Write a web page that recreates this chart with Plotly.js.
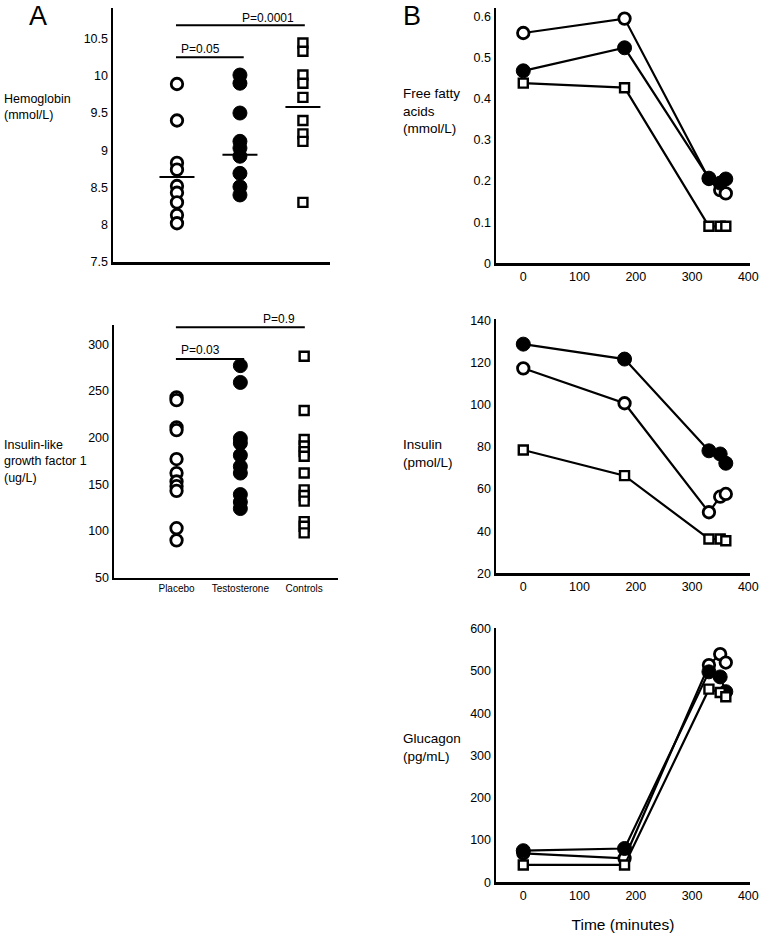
<!DOCTYPE html>
<html><head><meta charset="utf-8">
<script src="https://cdn.plot.ly/plotly-3.0.1.min.js"></script>
<style>html,body{margin:0;padding:0;background:#fff}#chart{width:762px;height:936px}</style>
</head><body><div id="chart"></div>
<script>
// ---------- DATA ----------
const groups = ["Placebo", "Testosterone", "Controls"];
const hbPlacebo = [9.89, 9.40, 8.83, 8.74, 8.52, 8.43, 8.30, 8.13, 8.02];
const hbTestosterone = [10.01, 9.90, 9.50, 9.12, 9.03, 8.92, 8.69, 8.51, 8.40];
const hbControls = [10.44, 10.33, 10.01, 9.90, 9.71, 9.40, 9.22, 9.12, 8.30];
const hbMeans = [8.64, 8.94, 9.58];
const igfPlacebo = [243, 240, 211, 208, 177, 162, 153, 148, 143, 103, 90];
const igfTestosterone = [277, 259, 199, 194, 181, 169, 162, 139, 131, 124];
const igfControls = [287, 229, 198, 191, 185, 180, 162, 144, 138, 132, 110, 105, 98];
const hbP = ["P=0.05", "P=0.0001"];
const igfP = ["P=0.03", "P=0.9"];

const time = [0, 180, 330, 350, 360];
const ffaPlacebo = [0.56, 0.595, 0.205, 0.178, 0.170];
const ffaTestosterone = [0.468, 0.524, 0.207, 0.195, 0.205];
const ffaControls = [0.438, 0.427, 0.090, 0.090, 0.090];
const insPlacebo = [117.4, 100.8, 49, 56.4, 57.7];
const insTestosterone = [128.9, 121.8, 78.2, 76.7, 72.3];
const insControls = [78.6, 66.4, 36.3, 36.3, 35.5];
const gluPlacebo = [68.6, 56.8, 514, 540, 520];
const gluTestosterone = [74.8, 80, 498, 486, 451];
const gluControls = [41, 41, 457, 449, 439];

const hbTicks = [7.5, 8, 8.5, 9, 9.5, 10, 10.5];
const hbTickText = ["7.5", "8", "8.5", "9", "9.5", "10", "10.5"];
const igfTicks = [50, 100, 150, 200, 250, 300];
const ffaTicks = [0, 0.1, 0.2, 0.3, 0.4, 0.5, 0.6];
const ffaTickText = ["0", "0.1", "0.2", "0.3", "0.4", "0.5", "0.6"];
const insTicks = [20, 40, 60, 80, 100, 120, 140];
const gluTicks = [0, 100, 200, 300, 400, 500, 600];
const timeTicks = [0, 100, 200, 300, 400];

// ---------- LAYOUT HELPERS ----------
const W = 762, H = 936;
const px = v => v / W;
const py = v => 1 - v / H;
const FONT = "Liberation Sans, Arial, sans-serif";

const openCircle = {symbol: "circle", size: 11.5, color: "#fff", line: {color: "#000", width: 2.8}};
const filledCircle = {symbol: "circle", size: 14, color: "#000", line: {color: "#000", width: 1}};
const openSquare = {symbol: "square", size: 9, color: "#fff", line: {color: "#000", width: 2.4}};
const markers = [openCircle, filledCircle, openSquare];

const traces = [];
function strip(vals, i, xa, ya) {
  traces.push({type: "scatter", mode: "markers", x: vals.map(() => i), y: vals,
    xaxis: xa, yaxis: ya, marker: markers[i], showlegend: false, cliponaxis: false, hoverinfo: "skip"});
}
[hbPlacebo, hbTestosterone, hbControls].forEach((v, i) => strip(v, i, "x", "y"));
[igfPlacebo, igfTestosterone, igfControls].forEach((v, i) => strip(v, i, "x2", "y2"));
traces.push({type: "scatter", mode: "markers", x: [0, 1, 2], y: hbMeans, xaxis: "x", yaxis: "y",
  marker: {symbol: "line-ew", size: 25, line: {color: "#000", width: 2}}, showlegend: false, cliponaxis: false});

function series(vals, i, xa, ya) {
  traces.push({type: "scatter", mode: "lines+markers", x: time, y: vals, xaxis: xa, yaxis: ya,
    line: {color: "#000", width: 2.2}, marker: markers[i], showlegend: false, cliponaxis: false});
}
[ffaPlacebo, ffaTestosterone, ffaControls].forEach((v, i) => series(v, i, "x3", "y3"));
[insPlacebo, insTestosterone, insControls].forEach((v, i) => series(v, i, "x4", "y4"));
[gluPlacebo, gluTestosterone, gluControls].forEach((v, i) => series(v, i, "x5", "y5"));

function ax(x0, x1, range, extra) {
  return Object.assign({domain: [px(x0), px(x1)], range: range, showline: true, linewidth: 2.5,
    linecolor: "#000", showgrid: false, zeroline: false, ticks: "", fixedrange: true,
    tickfont: {family: FONT, size: 12.5, color: "#000"}}, extra || {});
}
function ay(y0, y1, range, anchor, extra) {
  return Object.assign({domain: [py(y1), py(y0)], range: range, anchor: anchor, showline: true, linewidth: 2.5,
    linecolor: "#000", showgrid: false, zeroline: false, ticks: "", fixedrange: true,
    tickfont: {family: FONT, size: 12.5, color: "#000"}}, extra || {});
}

const layout = {
  width: W, height: H, margin: {l: 0, r: 0, t: 0, b: 0},
  paper_bgcolor: "#fff", plot_bgcolor: "rgba(0,0,0,0)", showlegend: false,
  font: {family: FONT, color: "#000"},
  xaxis: ax(113, 330, [-1.016, 2.43], {anchor: "y", showticklabels: false}),
  yaxis: ay(8, 262, [7.5, 10.91], "x", {tickvals: hbTicks, ticktext: hbTickText}),
  xaxis2: ax(114, 338, [-0.98, 2.53], {anchor: "y2", tickvals: [0, 1, 2], ticktext: groups, tickfont: {family: FONT, size: 10, color: "#000"}}),
  yaxis2: ay(325, 577.7, [50, 320.5], "x2", {tickvals: igfTicks}),
  xaxis3: ax(496, 750, [-48.5, 403], {anchor: "y3", tickvals: timeTicks}),
  yaxis3: ay(8.3, 263.3, [0, 0.62], "x3", {tickvals: ffaTicks, ticktext: ffaTickText}),
  xaxis4: ax(496, 750, [-48.5, 403], {anchor: "y4", tickvals: timeTicks}),
  yaxis4: ay(319.3, 573.3, [20, 140.7], "x4", {tickvals: insTicks}),
  xaxis5: ax(496, 750, [-48.5, 403], {anchor: "y5", tickvals: timeTicks,
    title: {text: "Time (minutes)", font: {family: FONT, size: 15.5, color: "#000"}, standoff: 18}}),
  yaxis5: ay(628.3, 882.3, [0, 601], "x5", {tickvals: gluTicks}),
  shapes: [
    {type: "line", xref: "x", yref: "y", x0: -0.016, x1: 1.06, y0: 10.25, y1: 10.25, line: {color: "#000", width: 2}},
    {type: "line", xref: "x", yref: "y", x0: -0.016, x1: 2.03, y0: 10.68, y1: 10.68, line: {color: "#000", width: 2}},
    {type: "line", xref: "x2", yref: "y2", x0: -0.01, x1: 1.06, y0: 284, y1: 284, line: {color: "#000", width: 2}},
    {type: "line", xref: "x2", yref: "y2", x0: -0.01, x1: 2.01, y0: 318, y1: 318, line: {color: "#000", width: 2}}
  ],
  annotations: []
};

const A = layout.annotations;
function note(text, x, y, size, xanchor, extra) {
  A.push(Object.assign({text: text, xref: "paper", yref: "paper", x: px(x), y: py(y), xanchor: xanchor || "left",
    yanchor: "middle", showarrow: false, align: "left", font: {family: FONT, size: size, color: "#000"}}, extra || {}));
}
note("A", 27, 16, 27);
note("B", 401, 16, 27);
note("Hemoglobin<br>(mmol/L)", 2, 107, 12.5);
note("Insulin-like<br>growth factor 1<br>(ug/L)", 2, 461, 12.5);
note("Free fatty<br>acids<br>(mmol/L)", 401, 111, 13.5);
note("Insulin<br>(pmol/L)", 401, 453, 13.5);
note("Glucagon<br>(pg/mL)", 401, 747, 13.5);
// p-values
note(hbP[0], 179, 49.3, 12);
note(hbP[1], 296, 18.3, 12, "right");
note(igfP[0], 179, 350, 12);
note(igfP[1], 297, 319.3, 12, "right");

Plotly.newPlot("chart", traces, layout, {staticPlot: true, displayModeBar: false});
</script></body></html>
